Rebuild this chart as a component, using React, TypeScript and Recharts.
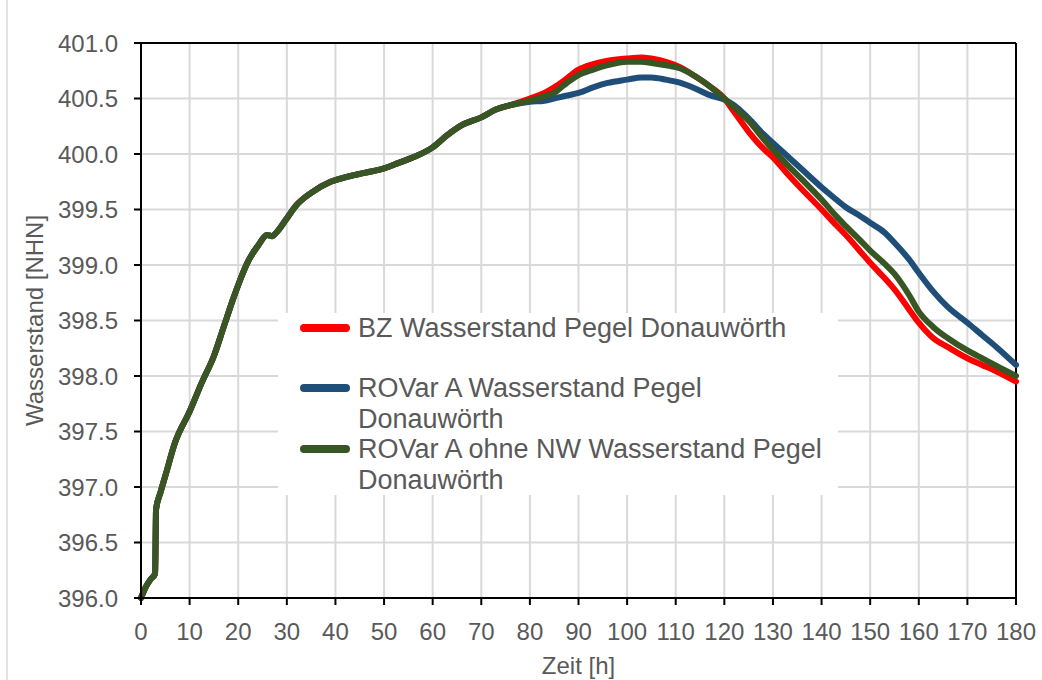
import React from "react";
import { LineChart, Line, XAxis, YAxis, CartesianGrid, Legend, ReferenceLine, Label } from "recharts";

// Zeitachse [h]
const hours = [
  0, 1, 2, 2.9, 3.1, 4, 5, 7, 10, 12.5, 15, 17, 19, 20, 22, 24, 26, 27, 28, 30, 32, 35, 39, 42, 46, 50, 53, 56, 60, 63,
  66, 70, 73, 76, 80, 83, 85, 87, 90, 93, 96, 100, 103, 105, 108, 111, 114, 117, 120, 122, 125, 128, 130, 133, 136, 140,
  143, 145, 148, 150, 153, 155, 158, 160, 163, 166, 170, 173, 176, 180,
];

// gemeinsamer Anstieg bis ca. 76 h
const common = [
  396.0, 396.1, 396.17, 396.22, 396.8, 396.95, 397.1, 397.4, 397.68, 397.94, 398.18, 398.44, 398.7, 398.82, 399.03,
  399.17, 399.27, 399.26, 399.3, 399.42, 399.54, 399.65, 399.75, 399.79, 399.83, 399.87, 399.92, 399.97, 400.06, 400.17,
  400.26, 400.33, 400.4, 400.44,
];

const bzTail = [
  400.5, 400.55, 400.6, 400.66, 400.76, 400.81, 400.84, 400.86, 400.87, 400.86, 400.83, 400.78, 400.7, 400.61, 400.5,
  400.38, 400.2, 400.05, 399.97, 399.82, 399.68, 399.5, 399.36, 399.27, 399.12, 399.02, 398.88, 398.78, 398.6, 398.48,
  398.34, 398.26, 398.16, 398.1, 398.04, 397.95,
];
const rovarTail = [
  400.47, 400.48, 400.5, 400.52, 400.55, 400.6, 400.64, 400.67, 400.69, 400.69, 400.67, 400.64, 400.59, 400.53, 400.49,
  400.44, 400.32, 400.18, 400.1, 399.98, 399.86, 399.7, 399.59, 399.52, 399.44, 399.38, 399.29, 399.2, 399.05, 398.93,
  398.76, 398.62, 398.48, 398.37, 398.26, 398.1,
];
const ohneNwTail = [
  400.48, 400.52, 400.55, 400.62, 400.71, 400.76, 400.8, 400.83, 400.83, 400.82, 400.8, 400.77, 400.7, 400.61, 400.5,
  400.42, 400.3, 400.14, 400.04, 399.9, 399.77, 399.59, 399.44, 399.35, 399.22, 399.13, 399.01, 398.92, 398.73, 398.58,
  398.44, 398.34, 398.23, 398.16, 398.09, 398.0,
];

const bz = [...common, ...bzTail];
const rovar = [...common, ...rovarTail];
const ohneNw = [...common, ...ohneNwTail];

const xTicks = [0, 10, 20, 30, 40, 50, 60, 70, 80, 90, 100, 110, 120, 130, 140, 150, 160, 170, 180];
const yTicks = [396, 396.5, 397, 397.5, 398, 398.5, 399, 399.5, 400, 400.5, 401];

const series = [
  { key: "bz", name: "BZ Wasserstand Pegel Donauwörth", color: "#FF0000" },
  { key: "rovar", name: "ROVar A Wasserstand Pegel Donauwörth", color: "#1F4E79" },
  { key: "ohneNw", name: "ROVar A ohne NW Wasserstand Pegel Donauwörth", color: "#375623" },
];

const FONT = "'Liberation Sans', Arial, sans-serif";
const TXT = "#595959";

const data = hours.map((t, i) => ({ t, bz: bz[i], rovar: rovar[i], ohneNw: ohneNw[i] }));

function LegendBox() {
  const rowTops = [0, 60, 121];
  return (
    <div style={{ position: "relative", width: 560, height: 182, background: "#fff", fontFamily: FONT }}>
      {series.map((s, i) => (
        <div key={s.key} style={{ position: "absolute", left: 0, top: rowTops[i], width: 560 }}>
          <div style={{ position: "absolute", left: 22, top: 11, width: 50, height: 8, borderRadius: 4, background: s.color }} />
          <div style={{ position: "absolute", left: 80, top: 0, width: 478, fontSize: 27, lineHeight: "31px", color: TXT, textAlign: "left" }}>
            {s.name}
          </div>
        </div>
      ))}
    </div>
  );
}

export default function App() {
  return (
    <div style={{ position: "fixed", left: 0, top: 0, width: 1042, height: 680, background: "#fff" }}>
      <div style={{ position: "absolute", left: 6, top: 0, width: 2, height: 680, background: "#e3e3e3" }} />
      <LineChart width={1042} height={680} data={data} margin={{ top: 43, right: 26, left: 0, bottom: 0 }}
        style={{ fontFamily: FONT }}>
        <CartesianGrid stroke="#d9d9d9" strokeWidth={2} />
        <XAxis dataKey="t" type="number" domain={[0, 180]} ticks={xTicks} height={82} tickSize={7} tickMargin={18}
          tick={{ fontSize: 24, fill: TXT, fontFamily: FONT }} axisLine={{ stroke: "#000", strokeWidth: 2 }}
          tickLine={{ stroke: "#000", strokeWidth: 2 }} interval={0}>
          <Label content={({ viewBox }: any) => (
            <text x={viewBox.x + viewBox.width / 2} y={viewBox.y + 67} textAnchor="middle" dominantBaseline="central"
              fontSize={24} fill={TXT} fontFamily={FONT}>Zeit [h]</text>
          )} />
        </XAxis>
        <YAxis type="number" domain={[396, 401]} ticks={yTicks} width={141} tickSize={7} tickMargin={16}
          tickFormatter={(v: number) => v.toFixed(1)} tick={{ fontSize: 24, fill: TXT, fontFamily: FONT }}
          axisLine={{ stroke: "#000", strokeWidth: 2 }} tickLine={{ stroke: "#000", strokeWidth: 2 }} interval={0}>
          <Label content={({ viewBox }: any) => {
            const cx = viewBox.x + 34;
            const cy = viewBox.y + viewBox.height / 2;
            return (
              <text x={cx} y={cy} transform={`rotate(-90 ${cx} ${cy})`} textAnchor="middle" dominantBaseline="central"
                fontSize={24} fill={TXT} fontFamily={FONT}>Wasserstand [NHN]</text>
            );
          }} />
        </YAxis>
        <ReferenceLine y={401} stroke="#000" strokeWidth={2} />
        <ReferenceLine x={180} stroke="#000" strokeWidth={2} />
        <Legend layout="vertical" align="center" verticalAlign="middle" content={() => <LegendBox />}
          wrapperStyle={{ position: "absolute", left: 278, top: 313, width: 560, height: 182 }} />
        {series.map((s) => (
          <Line key={s.key} type="monotone" dataKey={s.key} name={s.name} stroke={s.color} strokeWidth={6}
            strokeLinecap="round" strokeLinejoin="round" dot={false} activeDot={false} isAnimationActive={false} />
        ))}
      </LineChart>
    </div>
  );
}
